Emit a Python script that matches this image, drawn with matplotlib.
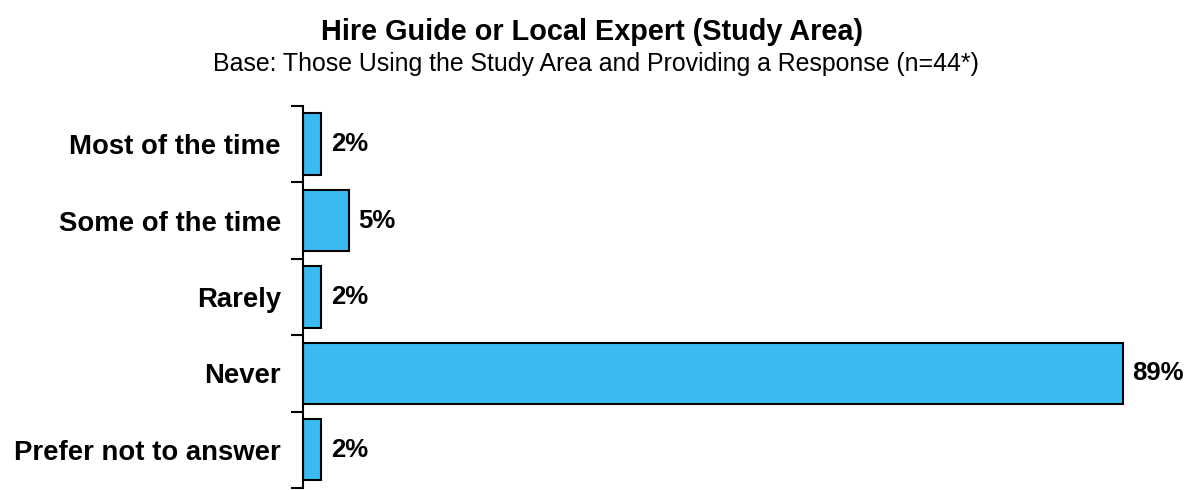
import matplotlib.pyplot as plt
import numpy as np

plt.rcParams['font.family'] = ['Liberation Sans', 'DejaVu Sans']

categories = ['Most of the time', 'Some of the time', 'Rarely', 'Never', 'Prefer not to answer']
values = [2, 5, 2, 89, 2]
labels = ['2%', '5%', '2%', '89%', '2%']

fig = plt.figure(figsize=(11.91, 4.9), dpi=100)
ax = fig.add_axes([0.2544, 0.004, 0.7456, 0.78])

y = np.arange(len(categories))
ax.barh(y, values, height=0.8, color='#3BBAF1', edgecolor='black', linewidth=1.5)

for yi, v, lab in zip(y, values, labels):
    ax.text(v + 1.0, yi, lab, va='center', ha='left', fontsize=18.5, fontweight='bold')

ax.set_ylim(len(categories) - 0.5, -0.5)
ax.set_xlim(0, 96.4)
ax.set_yticks(y)
ax.set_yticklabels(categories, fontsize=19.8, fontweight='bold')
ax.set_yticks(np.arange(-0.5, len(categories)), minor=True)
ax.tick_params(axis='y', which='major', length=0, pad=16)
ax.tick_params(axis='y', which='minor', length=9, width=1.5, direction='out')
ax.set_xticks([])

for s in ['top', 'right', 'bottom']:
    ax.spines[s].set_visible(False)
ax.spines['left'].set_linewidth(1.5)

fig.text(0.497, 0.935, 'Hire Guide or Local Expert (Study Area)', ha='center', va='center',
         fontsize=20.8, fontweight='bold')
fig.text(0.5, 0.869, 'Base: Those Using the Study Area and Providing a Response (n=44*)',
         ha='center', va='center', fontsize=17.9)

fig.savefig('out.png', dpi=100)
